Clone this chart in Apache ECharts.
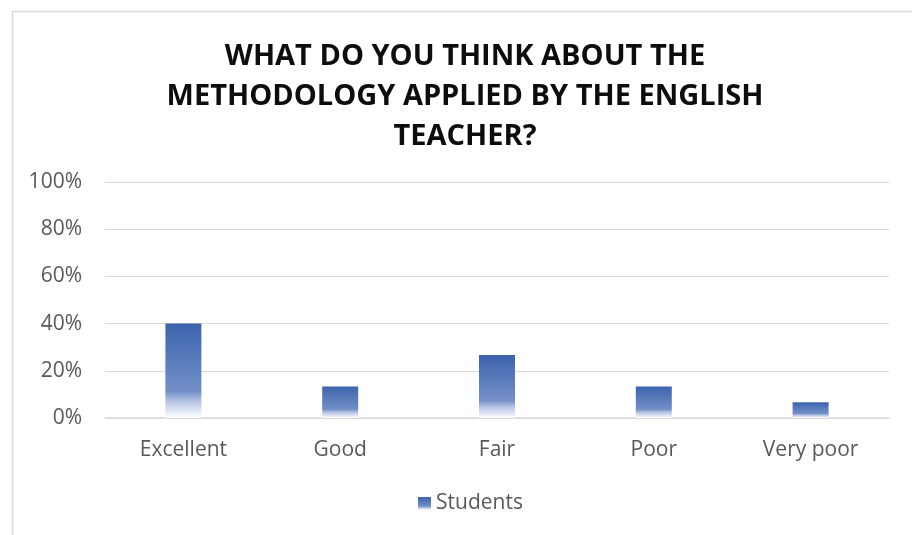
<!DOCTYPE html>
<html><head><meta charset="utf-8">
<script src="https://cdn.jsdelivr.net/npm/echarts@6/dist/echarts.min.js"></script>
<style>html,body{margin:0;padding:0;background:#fff;}#c{width:912px;height:535px;}</style>
</head><body><div id="c"></div>
<script>
const categories = ['Excellent', 'Good', 'Fair', 'Poor', 'Very poor'];
const students = [40, 13.33, 26.67, 13.33, 6.67];
const titleLines = ['WHAT DO YOU THINK ABOUT THE', 'METHODOLOGY APPLIED BY THE ENGLISH', 'TEACHER?'];
const seriesName = 'Students';

const chart = echarts.init(document.getElementById('c'), null, {renderer: 'canvas'});
const grad = new echarts.graphic.LinearGradient(0, 0, 0, 1, [
  {offset: 0, color: '#3c63ad'},
  {offset: 0.72, color: '#7390c8'},
  {offset: 0.82, color: '#b3c2e3'},
  {offset: 1, color: '#ffffff'}
]);
chart.setOption({
  animation: false,
  graphic: [{
    type: 'rect', shape: {x: 12.5, y: 11.5, width: 920, height: 540},
    style: {fill: 'none', stroke: '#d9d9d9', lineWidth: 1.5}, silent: true
  }],
  title: {
    text: titleLines.join('\n'), left: 460, top: 32, textAlign: 'center',
    textStyle: {fontFamily: 'Open Sans', fontWeight: 'bold', fontSize: 29, color: '#0d0d0d', lineHeight: 40}
  },
  legend: {
    bottom: 16, left: 413, itemWidth: 13, itemHeight: 13, icon: 'rect', itemGap: 6,
    textStyle: {fontFamily: 'Open Sans', fontSize: 21, color: '#595959'},
    data: [seriesName]
  },
  grid: {left: 105, right: 23, top: 182, bottom: 117, containLabel: false},
  xAxis: {
    type: 'category', data: categories,
    axisLine: {lineStyle: {color: '#d9d9d9', width: 1.5}},
    axisTick: {show: false},
    axisLabel: {fontFamily: 'Open Sans', fontSize: 21, color: '#595959', margin: 22}
  },
  yAxis: {
    type: 'value', min: 0, max: 100, interval: 20,
    axisLine: {show: false}, axisTick: {show: false},
    splitLine: {lineStyle: {color: '#d9d9d9', width: 1.2}},
    axisLabel: {formatter: '{value}%', fontFamily: 'Open Sans', fontSize: 21, color: '#595959', margin: 23}
  },
  series: [{
    name: seriesName, type: 'bar', data: students, barWidth: 36,
    itemStyle: {color: grad}
  }]
});
</script></body></html>
